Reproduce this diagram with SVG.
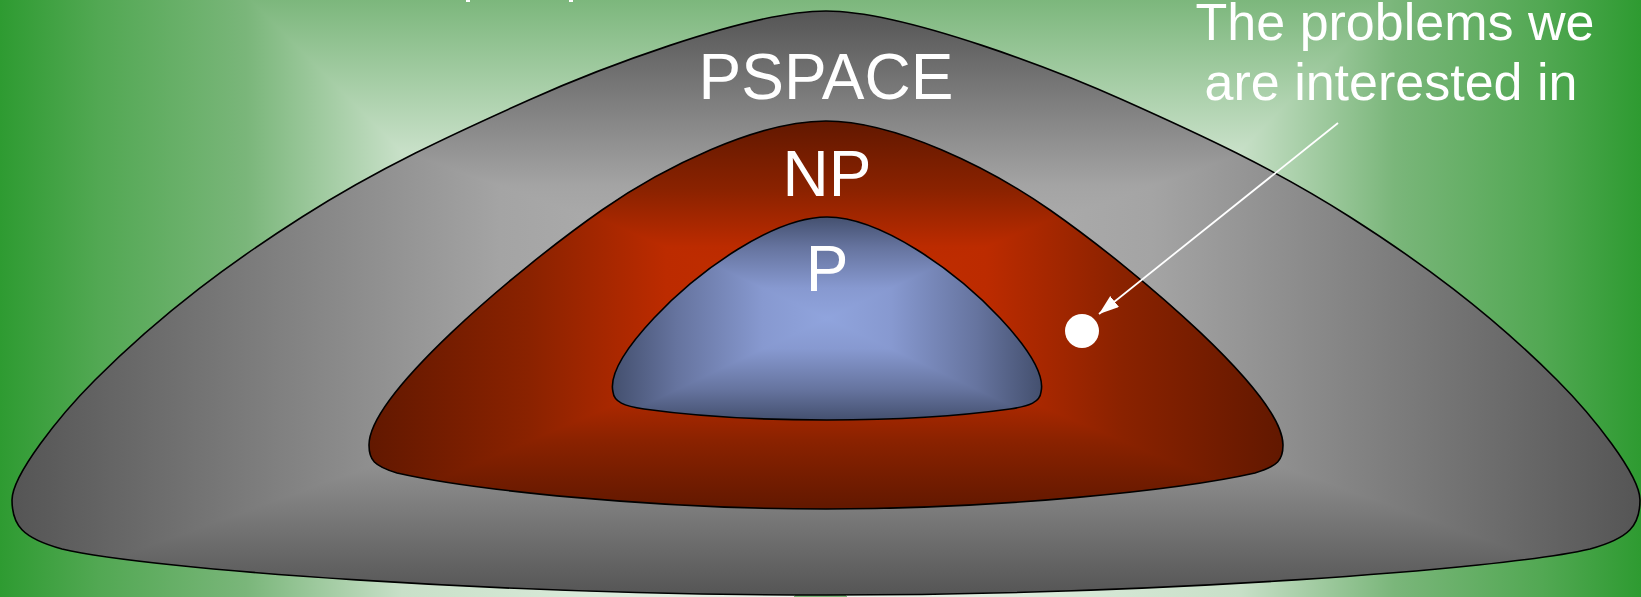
<svg xmlns="http://www.w3.org/2000/svg" xmlns:xlink="http://www.w3.org/1999/xlink" width="1641" height="597" viewBox="0 0 1641 597">
<style>
.lbl{fill:#ffffff;font-family:"Liberation Sans",Arial,sans-serif;text-anchor:middle}
.outline{fill:none;stroke:#000000;stroke-width:1.6;stroke-linejoin:round}
.tri{shape-rendering:crispEdges}
</style>
<defs>
  <linearGradient id="sBg"><stop offset="0" stop-color="#2e9b31"/><stop offset="0.12" stop-color="#52a853"/><stop offset="0.3" stop-color="#7ab67a"/><stop offset="0.49" stop-color="#c8e0c8"/><stop offset="1" stop-color="#eef6ee"/></linearGradient>
  <linearGradient id="sGray"><stop offset="0" stop-color="#555555"/><stop offset="0.6" stop-color="#a4a4a4"/><stop offset="1" stop-color="#b8b8b8"/></linearGradient>
  <linearGradient id="sRed"><stop offset="0" stop-color="#621800"/><stop offset="0.35" stop-color="#8a2200"/><stop offset="0.65" stop-color="#bc2b00"/><stop offset="1" stop-color="#c43000"/></linearGradient>
  <linearGradient id="sBlue"><stop offset="0" stop-color="#44506f"/><stop offset="0.3" stop-color="#66749f"/><stop offset="0.7" stop-color="#8799d0"/><stop offset="1" stop-color="#90a4dd"/></linearGradient>

  <linearGradient id="bgT" href="#sBg" gradientUnits="userSpaceOnUse" x1="0" y1="-250" x2="0" y2="570"/>
  <linearGradient id="bgL" href="#sBg" gradientUnits="userSpaceOnUse" x1="0" y1="0" x2="820.5" y2="0"/>
  <linearGradient id="bgR" href="#sBg" gradientUnits="userSpaceOnUse" x1="1641" y1="0" x2="820.5" y2="0"/>

  <linearGradient id="psT" href="#sGray" gradientUnits="userSpaceOnUse" x1="0" y1="11" x2="0" y2="303"/>
  <linearGradient id="psB" href="#sGray" gradientUnits="userSpaceOnUse" x1="0" y1="595" x2="0" y2="303"/>
  <linearGradient id="psL" href="#sGray" gradientUnits="userSpaceOnUse" x1="12" y1="0" x2="826" y2="0"/>
  <linearGradient id="psR" href="#sGray" gradientUnits="userSpaceOnUse" x1="1640" y1="0" x2="826" y2="0"/>

  <linearGradient id="npT" href="#sRed" gradientUnits="userSpaceOnUse" x1="0" y1="121" x2="0" y2="315"/>
  <linearGradient id="npB" href="#sRed" gradientUnits="userSpaceOnUse" x1="0" y1="509" x2="0" y2="315"/>
  <linearGradient id="npL" href="#sRed" gradientUnits="userSpaceOnUse" x1="369" y1="0" x2="826" y2="0"/>
  <linearGradient id="npR" href="#sRed" gradientUnits="userSpaceOnUse" x1="1283" y1="0" x2="826" y2="0"/>

  <linearGradient id="pT" href="#sBlue" gradientUnits="userSpaceOnUse" x1="0" y1="217" x2="0" y2="318.5"/>
  <linearGradient id="pB" href="#sBlue" gradientUnits="userSpaceOnUse" x1="0" y1="420" x2="0" y2="318.5"/>
  <linearGradient id="pL" href="#sBlue" gradientUnits="userSpaceOnUse" x1="613" y1="0" x2="827" y2="0"/>
  <linearGradient id="pR" href="#sBlue" gradientUnits="userSpaceOnUse" x1="1041" y1="0" x2="827" y2="0"/>

  <path id="shPspace" d="M826 11 C906 11 1063 73 1123 100 C1199 134 1274 168.4 1350 217 C1419 261 1488 311 1557 380 C1592 415 1640 475 1640 500 C1640 525 1630 538 1590 549 C1500 570 1150 595 826 595 C502 595 152 570 62 549 C22 538 12 525 12 500 C12 475 60 415 95 380 C164 311 233 261 302 217 C378 168.4 453 134 529 100 C589 73 746 11 826 11 Z"/>
  <path id="shNp" d="M826 121 C895 121 990 168 1050 210 C1140 273 1283 395 1283 445 C1283 460 1278 466 1255 473 C1180 490 1000 509 826 509 C652 509 472 490 397 473 C374 466 369 460 369 445 C369 395 512 273 602 210 C662 168 757 121 826 121 Z"/>
  <path id="shP" d="M827 217 C880 217 955 270 1000 318 C1030 350 1045 375 1041 392 C1040 402 1030 406 1010 409 C960 416 900 420 827 420 C754 420 694 416 644 409 C624 406 614 402 613 392 C609 375 624 350 654 318 C699 270 774 217 827 217 Z"/>

  <clipPath id="cPspace"><use href="#shPspace"/></clipPath>
  <clipPath id="cNp"><use href="#shNp"/></clipPath>
  <clipPath id="cP"><use href="#shP"/></clipPath>

  <marker id="arrow" markerUnits="userSpaceOnUse" markerWidth="22" markerHeight="16" refX="20" refY="7" orient="auto">
    <path d="M0 0 L20 7 L0 14 Z" fill="#ffffff"/>
  </marker>
</defs>

<g id="background">
  <rect x="0" y="0" width="1641" height="597" fill="#7ab67a"/>
  <polygon class="tri" points="0,-250 1641,-250 820.5,570" fill="url(#bgT)"/>
  <polygon class="tri" points="0,-250 0,1390 820.5,570" fill="url(#bgL)"/>
  <polygon class="tri" points="1641,-250 1641,1390 820.5,570" fill="url(#bgR)"/>
  <rect x="466" y="0" width="4" height="2" fill="#ffffff"/>
  <rect x="569" y="0" width="4" height="2" fill="#ffffff"/>
</g>

<g id="pspace">
  <g clip-path="url(#cPspace)">
    <rect x="12" y="11" width="1628" height="584" fill="#8a8a8a"/>
    <polygon class="tri" points="12,11 1640,11 826,303" fill="url(#psT)"/>
    <polygon class="tri" points="12,595 1640,595 826,303" fill="url(#psB)"/>
    <polygon class="tri" points="12,11 12,595 826,303" fill="url(#psL)"/>
    <polygon class="tri" points="1640,11 1640,595 826,303" fill="url(#psR)"/>
  </g>
  <use href="#shPspace" class="outline"/>
  <text class="lbl" x="826" y="99" font-size="64">PSPACE</text>
</g>

<g id="np">
  <g clip-path="url(#cNp)">
    <rect x="369" y="121" width="914" height="388" fill="#9a2500"/>
    <polygon class="tri" points="369,121 1283,121 826,315" fill="url(#npT)"/>
    <polygon class="tri" points="369,509 1283,509 826,315" fill="url(#npB)"/>
    <polygon class="tri" points="369,121 369,509 826,315" fill="url(#npL)"/>
    <polygon class="tri" points="1283,121 1283,509 826,315" fill="url(#npR)"/>
  </g>
  <use href="#shNp" class="outline"/>
  <text class="lbl" x="827" y="196" font-size="64">NP</text>
</g>

<g id="p">
  <g clip-path="url(#cP)">
    <rect x="613" y="217" width="428" height="203" fill="#6a78a6"/>
    <polygon class="tri" points="613,217 1041,217 827,318.5" fill="url(#pT)"/>
    <polygon class="tri" points="613,420 1041,420 827,318.5" fill="url(#pB)"/>
    <polygon class="tri" points="613,217 613,420 827,318.5" fill="url(#pL)"/>
    <polygon class="tri" points="1041,217 1041,420 827,318.5" fill="url(#pR)"/>
  </g>
  <use href="#shP" class="outline"/>
  <text class="lbl" x="827" y="291" font-size="64">P</text>
</g>

<g id="dot">
  <circle cx="1082" cy="331" r="17" fill="#ffffff"/>
</g>

<g id="label">
  <text class="lbl" x="1395" y="40" font-size="52">The problems we</text>
  <text class="lbl" x="1391" y="100" font-size="52">are interested in</text>
</g>

<g id="connectors">
  <line x1="1338" y1="123" x2="1099" y2="314" stroke="#ffffff" stroke-width="1.8" marker-end="url(#arrow)"/>
</g>
</svg>
